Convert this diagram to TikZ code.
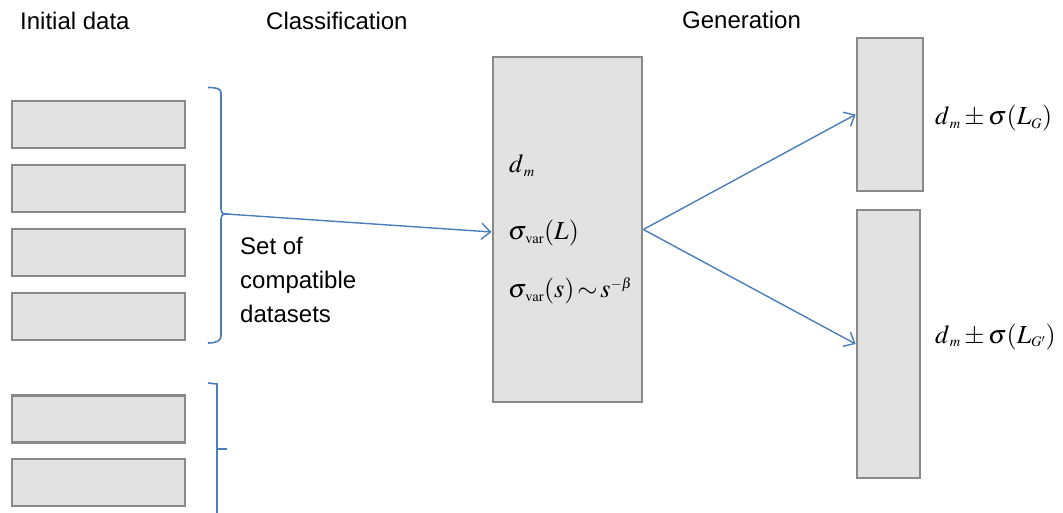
\documentclass[tikz,border=0pt]{standalone}
\usepackage{mathptmx}
\usepackage{fontspec}
\setsansfont{Liberation Sans}
\DeclareMathSizes{26}{26}{14.5}{11}
\usetikzlibrary{arrows.meta,calc}
\definecolor{boxfill}{HTML}{E2E2E2}
\definecolor{boxline}{HTML}{898989}
\definecolor{linkblue}{HTML}{4A7EBB}
\tikzset{
  databox/.style={draw=boxline,fill=boxfill,line width=2.8pt,inner sep=0pt,
    minimum width=173pt,minimum height=47pt},
  tallbox/.style={draw=boxline,fill=boxfill,line width=2.8pt,inner sep=0pt},
  link/.style={draw=linkblue,line width=1.4pt,-{Straight Barb[length=9pt,width=16pt,line width=1.4pt]}},
  bracket/.style={draw=linkblue,line width=1.6pt},
  heading/.style={font=\sffamily\fontsize{24}{28}\selectfont,anchor=base west,inner sep=0pt},
  formula/.style={font=\fontsize{26}{30}\selectfont,anchor=base west,inner sep=0pt},
}
\begin{document}
\begin{tikzpicture}[x=1pt,y=-1pt]
\useasboundingbox (0,0) rectangle (1063,513);

% column headings
\node[heading] (hInit) at (20,30) {Initial data};
\node[heading] (hClass) at (266,30) {Classification};
\node[heading] (hGen) at (682,29) {Generation};

% initial datasets
\node[databox] (d1) at (98.5,124.5) {};
\node[databox] (d2) at (98.5,188.5) {};
\node[databox] (d3) at (98.5,252.5) {};
\node[databox] (d4) at (98.5,316.5) {};
\node[databox] (d5) at (98.5,419) {};
\node[databox] (d6) at (98.5,482.5) {};

% brace grouping the compatible datasets
\coordinate (tip1) at (226,214);
\draw[bracket] (208,87.5) .. controls (216,87.5) and (221,88.5) .. (221,93)
  -- (221,209) .. controls (221,212) and (222,214) .. (tip1)
  .. controls (222,214) and (221,216) .. (221,219)
  -- (221,336) .. controls (221,341) and (216,343) .. (208,343);
\node[font=\sffamily\fontsize{24}{34}\selectfont,align=left,anchor=north west,inner sep=0pt]
  (setlbl) at (240,237) {Set of\\compatible\\datasets};

% second brace
\coordinate (tip2) at (227,449);
\draw[bracket] (208,383) -- (217,384) -- (217,520);
\draw[bracket] (217,449) -- (tip2);

% classification box
\node[tallbox,minimum width=149pt,minimum height=345pt] (cls) at (567.5,229.5) {};
\node[formula] (fdm) at (509,173) {$d_{\,m}$};
\node[formula] (fvarL) at (508,240) {$\sigma_{\,\mathrm{var}}(L)$};
\node[formula] (fvars) at (508,298) {$\sigma_{\,\mathrm{var}}(s)\,\mathord{\sim}\,s^{-\beta}$};

% generated datasets
\node[tallbox,minimum width=66pt,minimum height=153pt] (g1) at (890,114.5) {};
\node[tallbox,minimum width=63pt,minimum height=268pt] (g2) at (888.5,344) {};
\node[formula] (fg1) at (935,125) {$d_{\,m} \pm \sigma(L_G)$};
\node[formula] (fg2) at (935,343) {$d_{\,m} \pm \sigma(L_{G'})$};

% connectors
\draw[link] (tip1) -- ($(cls.west)+(0,2.5)$);
\draw[link] (cls.east) -- (g1.west);
\draw[link] (cls.east) -- (g2.west);
\end{tikzpicture}
\end{document}
